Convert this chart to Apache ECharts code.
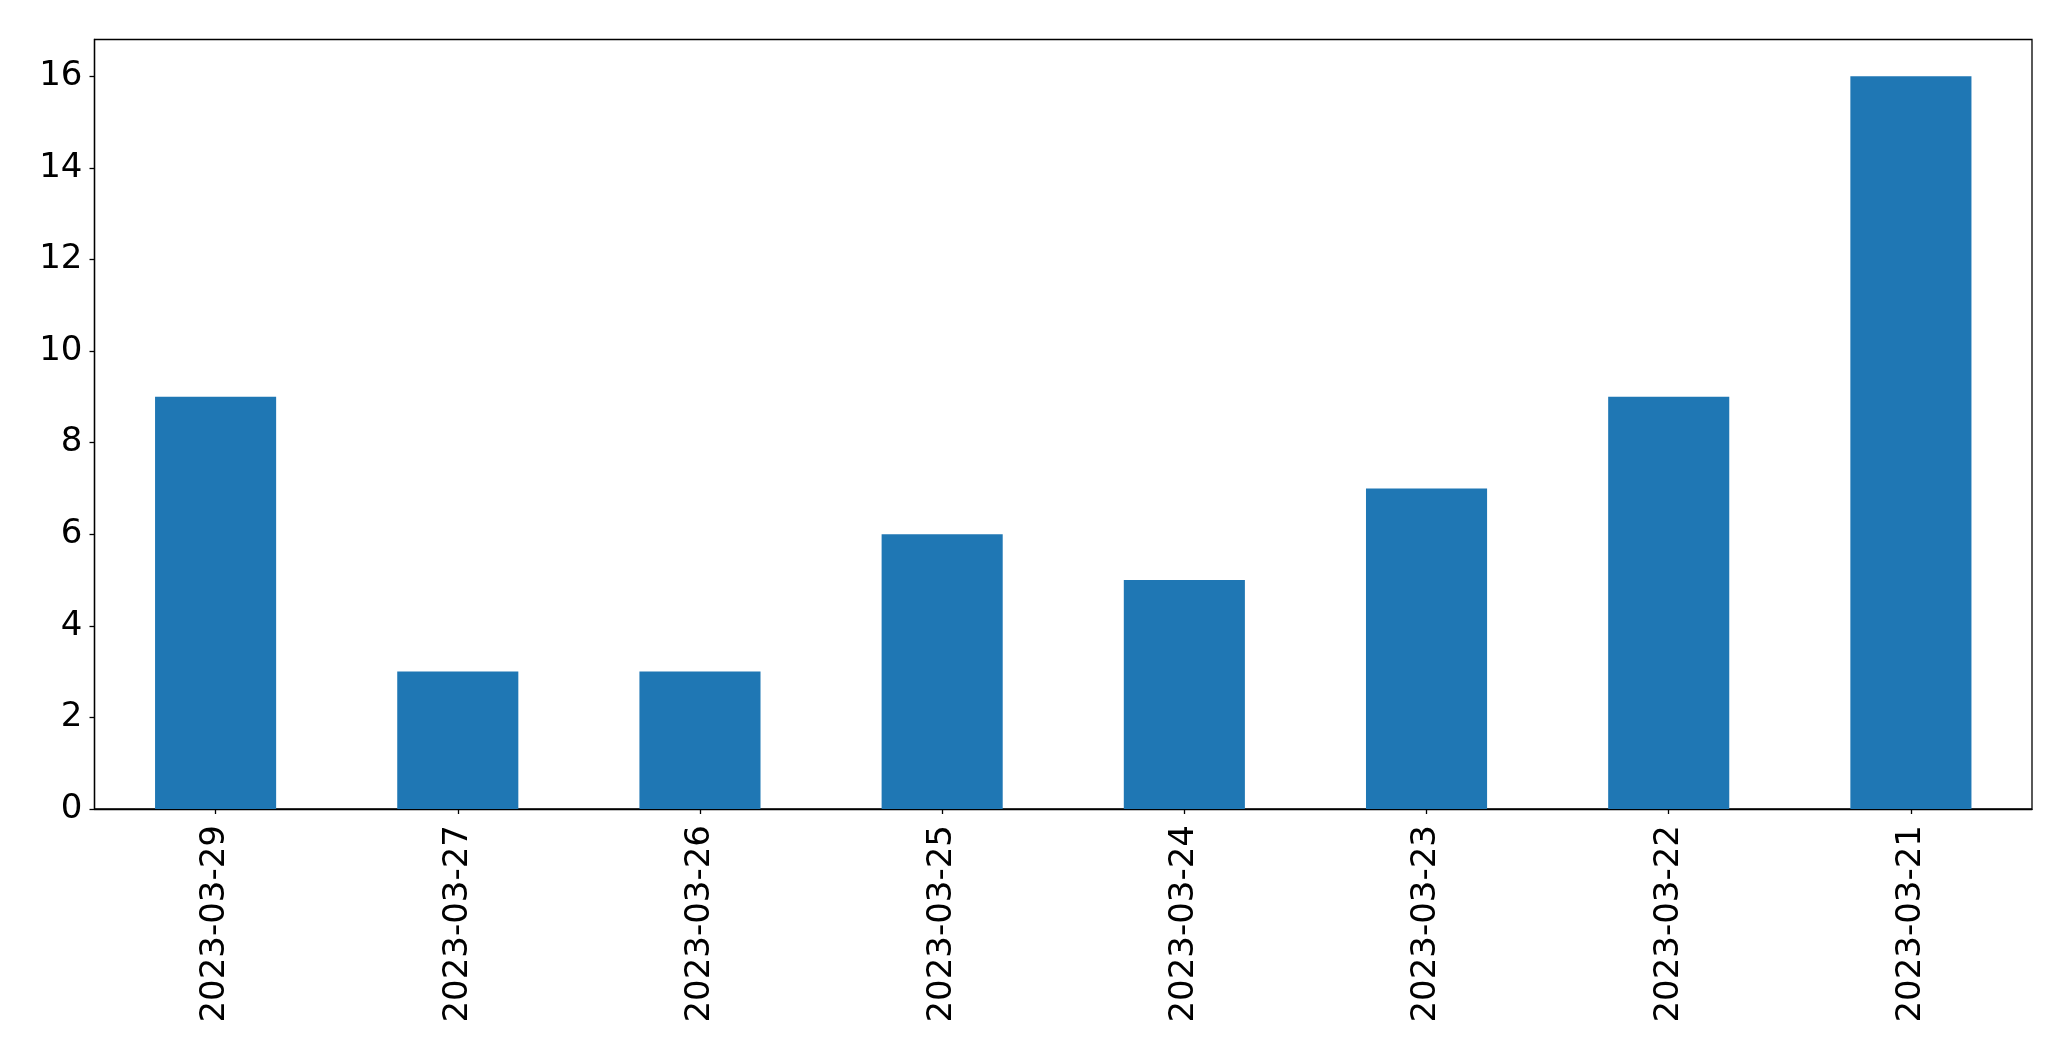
<!DOCTYPE html>
<html>
<head>
<meta charset="utf-8">
<script src="https://cdn.jsdelivr.net/npm/echarts@6/dist/echarts.min.js"></script>
<style>
html,body{margin:0;padding:0;background:#fff;}
#chart{width:2071px;height:1061px;}
</style>
</head>
<body>
<div id="chart"></div>
<script>
const categories = ['2023-03-29','2023-03-27','2023-03-26','2023-03-25','2023-03-24','2023-03-23','2023-03-22','2023-03-21'];
const values = [9, 3, 3, 6, 5, 7, 9, 16];
const yTicks = [0, 2, 4, 6, 8, 10, 12, 14, 16];
const yMax = 16.8;

const chart = echarts.init(document.getElementById('chart'), null, {renderer: 'canvas'});
const font = 'DejaVu Sans';
chart.setOption({
  animation: false,
  backgroundColor: '#ffffff',
  grid: {
    left: 94.5, right: 39, top: 39.5, bottom: 252,
    show: true, borderColor: '#000', borderWidth: 1.3, backgroundColor: 'transparent'
  },
  xAxis: {
    type: 'category',
    data: categories,
    axisLine: {show: true, lineStyle: {color: '#000', width: 1.3}},
    axisTick: {show: true, alignWithLabel: true, length: 5, lineStyle: {color: '#000', width: 1.3}},
    axisLabel: {rotate: 90, color: '#000', fontFamily: font, fontSize: 34, margin: 16, interval: 0},
    splitLine: {show: false}
  },
  yAxis: {
    type: 'value',
    min: 0, max: yMax,
    axisLine: {show: true, lineStyle: {color: '#000', width: 1.3}},
    axisTick: {show: true, length: 5, lineStyle: {color: '#000', width: 1.3}, customValues: yTicks},
    axisLabel: {color: '#000', fontFamily: font, fontSize: 34, margin: 12, customValues: yTicks},
    splitLine: {show: false}
  },
  series: [{
    type: 'bar',
    data: values,
    barWidth: '50%',
    itemStyle: {color: '#1f77b4'}
  }]
});
</script>
</body>
</html>
